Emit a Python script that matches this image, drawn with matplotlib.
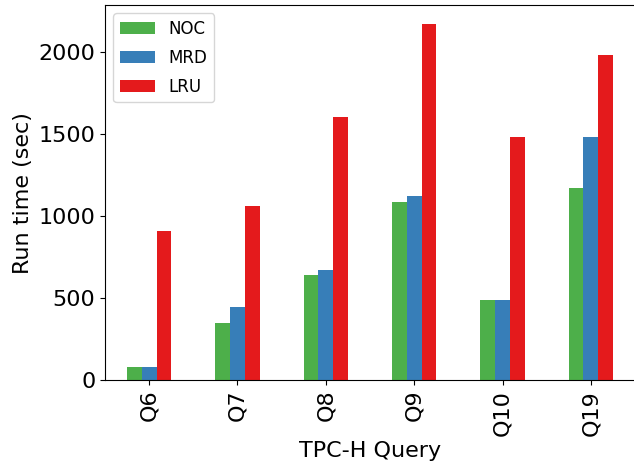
import matplotlib
matplotlib.use('Agg')
import matplotlib.pyplot as plt
import numpy as np

queries = ['Q6', 'Q7', 'Q8', 'Q9', 'Q10', 'Q19']
noc = [80, 348, 640, 1085, 488, 1171]
mrd = [80, 445, 671, 1122, 488, 1482]
lru = [908, 1061, 1604, 2171, 1482, 1982]

series = [('NOC', noc, '#4daf4a'), ('MRD', mrd, '#377eb8'), ('LRU', lru, '#e41a1c')]

fig = plt.figure(figsize=(6.34, 4.63), dpi=100)
ax = fig.add_axes([0.1656, 0.179, 0.8360, 0.810])

x = np.arange(len(queries))
w = 0.5 / 3
for i, (name, vals, color) in enumerate(series):
    ax.bar(x + (i - 1) * w, vals, width=w, color=color, label=name)

ax.set_xlim(-0.5, len(queries) - 0.5)
ax.set_ylim(0, 2287)
ax.set_xticks(x)
ax.set_xticklabels(queries, rotation=90)
ax.tick_params(axis='both', labelsize=16)
ax.set_xlabel('TPC-H Query', fontsize=16)
ax.set_ylabel('Run time (sec)', fontsize=16)
ax.legend(loc='upper left', fontsize=12, labelspacing=0.65, handlelength=2.1)

fig.savefig('out.png', dpi=100)
